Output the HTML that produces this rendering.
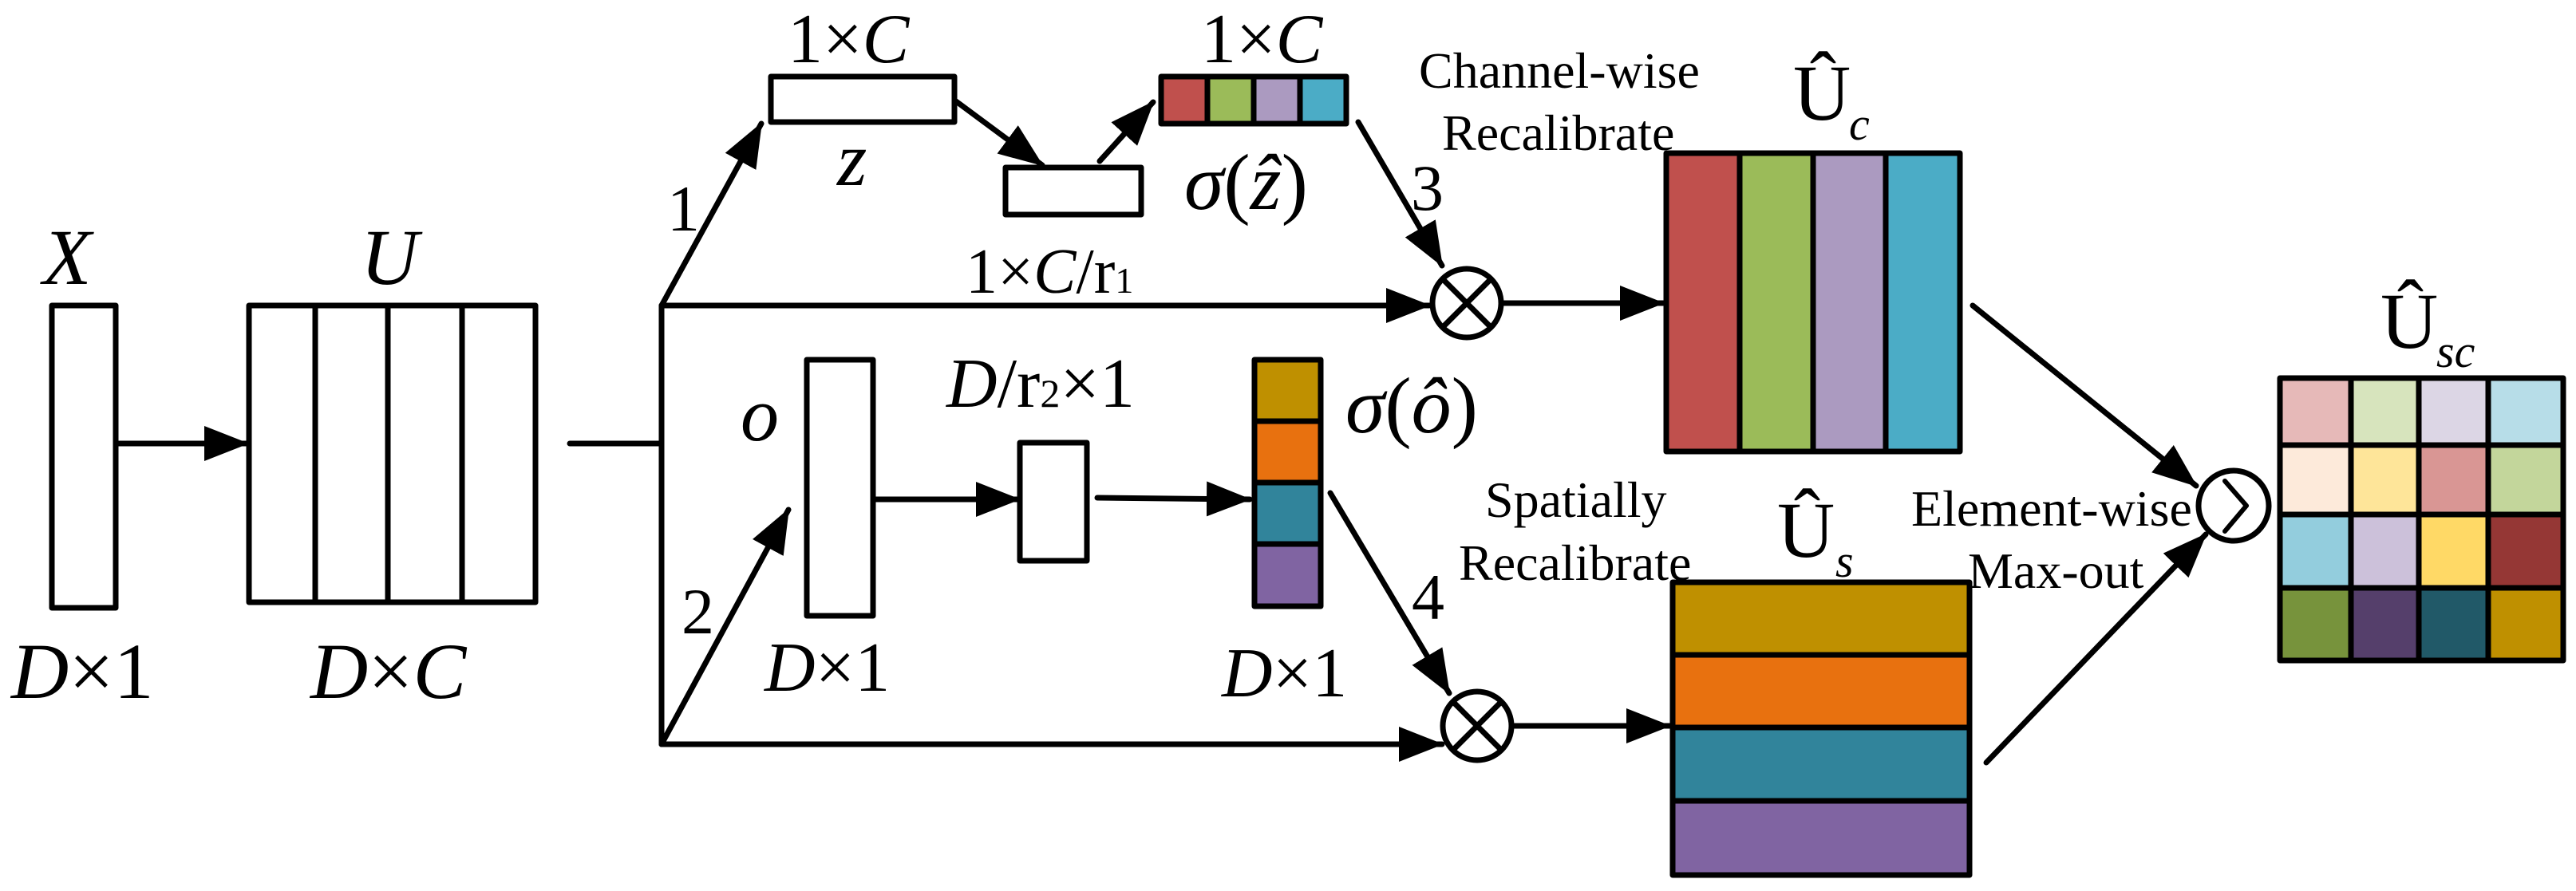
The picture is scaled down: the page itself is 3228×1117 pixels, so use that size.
<!DOCTYPE html>
<html><head><meta charset="utf-8"><style>
html,body{margin:0;padding:0;background:#fff;}
svg{display:block;}
svg text{font-family:"Liberation Serif","Times New Roman","DejaVu Serif",serif;fill:#000;}
.it{font-style:italic;}
</style></head><body>
<svg width="3228" height="1117" viewBox="0 0 3228 1117" xmlns="http://www.w3.org/2000/svg" font-family="Liberation Serif, DejaVu Serif, serif">
<defs>
<marker id="a" markerUnits="userSpaceOnUse" markerWidth="56" markerHeight="44" refX="54" refY="22" orient="auto">
<path d="M0,0 L56,22 L0,44 z" fill="#000"/></marker>
</defs>
<g stroke="#000" stroke-width="7" fill="none" stroke-linecap="round" stroke-linejoin="round">
<rect x="65" y="383" width="80" height="379" fill="#fff"/>
<rect x="312" y="383" width="359" height="372" fill="#fff"/>
<line x1="395" y1="383" x2="395" y2="755"/>
<line x1="486" y1="383" x2="486" y2="755"/>
<line x1="579" y1="383" x2="579" y2="755"/>
<line x1="146" y1="556" x2="310" y2="556" marker-end="url(#a)"/>
<line x1="714" y1="556" x2="829" y2="556"/>
<line x1="829" y1="383" x2="829" y2="933"/>
<line x1="829" y1="383" x2="954" y2="155" marker-end="url(#a)"/>
<rect x="966" y="96" width="230" height="57" fill="#fff"/>
<line x1="1198" y1="127" x2="1306" y2="207" marker-end="url(#a)"/>
<rect x="1260" y="210" width="170" height="59" fill="#fff"/>
<line x1="1378" y1="202" x2="1445" y2="128" marker-end="url(#a)"/>
<rect x="1455" y="96" width="58" height="59" fill="#c0504d"/>
<rect x="1513" y="96" width="58" height="59" fill="#9bbb59"/>
<rect x="1571" y="96" width="58" height="59" fill="#ab9ac0"/>
<rect x="1629" y="96" width="58" height="59" fill="#4bacc6"/>
<line x1="829" y1="383" x2="1791" y2="383" marker-end="url(#a)"/>
<line x1="1702" y1="153" x2="1807" y2="333" marker-end="url(#a)"/>
<circle cx="1838" cy="380" r="43" fill="#fff"/>
<line x1="1808" y1="350" x2="1868" y2="410"/>
<line x1="1868" y1="350" x2="1808" y2="410"/>
<line x1="1882" y1="380" x2="2084" y2="380" marker-end="url(#a)"/>
<rect x="2088" y="192" width="92" height="374" fill="#c0504d"/>
<rect x="2180" y="192" width="92" height="374" fill="#9bbb59"/>
<rect x="2272" y="192" width="91" height="374" fill="#ab9ac0"/>
<rect x="2363" y="192" width="93" height="374" fill="#4bacc6"/>
<line x1="829" y1="933" x2="988" y2="639" marker-end="url(#a)"/>
<rect x="1011" y="451" width="83" height="321" fill="#fff"/>
<line x1="1096" y1="626" x2="1277" y2="626" marker-end="url(#a)"/>
<rect x="1278" y="555" width="84" height="148" fill="#fff"/>
<line x1="1375" y1="624" x2="1566" y2="626" marker-end="url(#a)"/>
<rect x="1572" y="451" width="83" height="77" fill="#bf9000"/>
<rect x="1572" y="528" width="83" height="77" fill="#e8710f"/>
<rect x="1572" y="605" width="83" height="77" fill="#31849b"/>
<rect x="1572" y="682" width="83" height="78" fill="#8064a2"/>
<line x1="829" y1="933" x2="1807" y2="933" marker-end="url(#a)"/>
<line x1="1667" y1="618" x2="1816" y2="869" marker-end="url(#a)"/>
<circle cx="1851" cy="910" r="43" fill="#fff"/>
<line x1="1821" y1="880" x2="1881" y2="940"/>
<line x1="1881" y1="880" x2="1821" y2="940"/>
<line x1="1895" y1="910" x2="2092" y2="910" marker-end="url(#a)"/>
<rect x="2096" y="730" width="372" height="91" fill="#bf9000"/>
<rect x="2096" y="821" width="372" height="91" fill="#e8710f"/>
<rect x="2096" y="912" width="372" height="92" fill="#31849b"/>
<rect x="2096" y="1004" width="372" height="93" fill="#8064a2"/>
<line x1="2472" y1="383" x2="2752" y2="609" marker-end="url(#a)"/>
<line x1="2489" y1="956" x2="2764" y2="670" marker-end="url(#a)"/>
<circle cx="2799" cy="634" r="44" fill="#fff"/>
<polyline points="2788,603 2815,634 2788,666" stroke-width="6"/>
<rect x="2857" y="474" width="89" height="84" fill="#e6b9b8"/>
<rect x="2946" y="474" width="85" height="84" fill="#d7e4bd"/>
<rect x="3031" y="474" width="87" height="84" fill="#dcd6e5"/>
<rect x="3118" y="474" width="94" height="84" fill="#b7dde8"/>
<rect x="2857" y="558" width="89" height="87" fill="#fdeada"/>
<rect x="2946" y="558" width="85" height="87" fill="#fee599"/>
<rect x="3031" y="558" width="87" height="87" fill="#d99694"/>
<rect x="3118" y="558" width="94" height="87" fill="#c3d69b"/>
<rect x="2857" y="645" width="89" height="92" fill="#93cddd"/>
<rect x="2946" y="645" width="85" height="92" fill="#ccc1da"/>
<rect x="3031" y="645" width="87" height="92" fill="#ffd966"/>
<rect x="3118" y="645" width="94" height="92" fill="#953735"/>
<rect x="2857" y="737" width="89" height="91" fill="#77933c"/>
<rect x="2946" y="737" width="85" height="91" fill="#553f6b"/>
<rect x="3031" y="737" width="87" height="91" fill="#215968"/>
<rect x="3118" y="737" width="94" height="91" fill="#bf9000"/>
</g>
<text x="84" y="356" font-size="100" text-anchor="middle" class="it">X</text>
<text x="488" y="356" font-size="100" text-anchor="middle" class="it">U</text>
<text x="14" y="875" font-size="100"><tspan class="it">D</tspan>×1</text>
<text x="389" y="875" font-size="100"><tspan class="it">D</tspan>×<tspan class="it">C</tspan></text>
<text x="836" y="289" font-size="82">1</text>
<text x="854" y="794" font-size="82">2</text>
<text x="987" y="78" font-size="88">1×<tspan class="it">C</tspan></text>
<text x="1049" y="232" font-size="96" class="it">z</text>
<text x="1505" y="78" font-size="88">1×<tspan class="it">C</tspan></text>
<text x="1484" y="262" font-size="100"><tspan class="it">σ</tspan>(<tspan class="it">ẑ</tspan>)</text>
<text x="1210" y="367" font-size="80">1×<tspan class="it">C</tspan>/r<tspan font-size="46">1</tspan></text>
<text x="1768" y="263" font-size="82">3</text>
<text x="1778" y="110" font-size="64">Channel-wise</text>
<text x="1807" y="188" font-size="64">Recalibrate</text>
<text x="2247" y="150" font-size="100">Û</text>
<text x="2317" y="175" font-size="58" class="it">c</text>
<text x="928" y="552" font-size="96" class="it">o</text>
<text x="958" y="866" font-size="88"><tspan class="it">D</tspan>×1</text>
<text x="1186" y="510" font-size="88"><tspan class="it">D</tspan>/r<tspan font-size="50">2</tspan>×1</text>
<text x="1686" y="542" font-size="100"><tspan class="it">σ</tspan>(<tspan class="it">ô</tspan>)</text>
<text x="1531" y="873" font-size="88"><tspan class="it">D</tspan>×1</text>
<text x="1769" y="776" font-size="82">4</text>
<text x="1861" y="648" font-size="64">Spatially</text>
<text x="1828" y="727" font-size="64">Recalibrate</text>
<text x="2227" y="698" font-size="100">Û</text>
<text x="2300" y="723" font-size="58" class="it">s</text>
<text x="2395" y="659" font-size="64">Element-wise</text>
<text x="2466" y="737" font-size="64">Max-out</text>
<text x="2983" y="436" font-size="100">Û</text>
<text x="3053" y="460" font-size="58" class="it">sc</text>
</svg>
</body></html>
